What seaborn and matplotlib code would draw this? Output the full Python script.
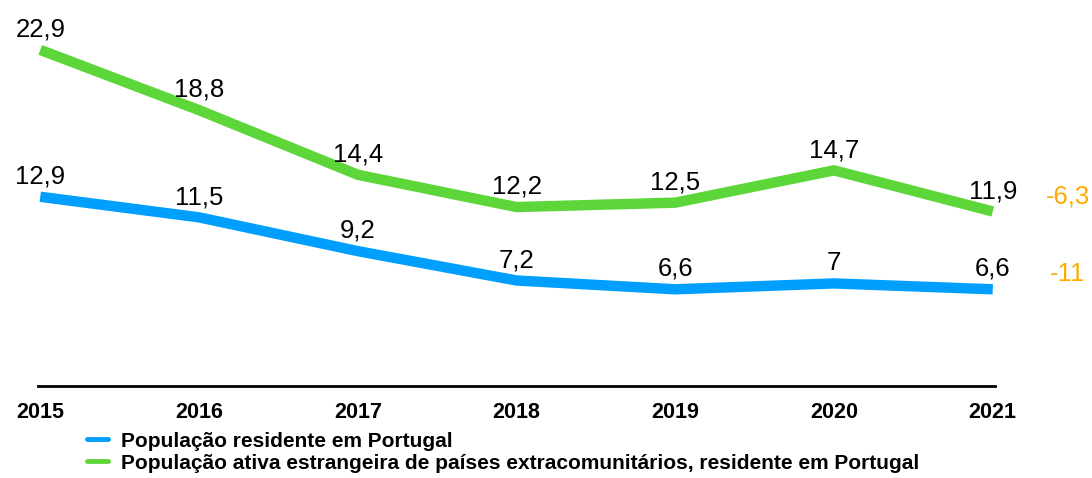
import pandas as pd
import matplotlib
matplotlib.use("Agg")
import matplotlib.pyplot as plt
import seaborn as sns

# ----------------------------- Data ----------------------------- #
years = [2015, 2016, 2017, 2018, 2019, 2020, 2021]
residentes = [12.9, 11.5, 9.2, 7.2, 6.6, 7.0, 6.6]
estrangeiros = [22.9, 18.8, 14.4, 12.2, 12.5, 14.7, 11.9]
serie_residentes = "População residente em Portugal"
serie_estrangeiros = "População ativa estrangeira de países extracomunitários, residente em Portugal"
variacao = {serie_estrangeiros: "-6,3", serie_residentes: "-11"}

df = pd.concat([
    pd.DataFrame({"Ano": years, "Valor": residentes, "Serie": serie_residentes}),
    pd.DataFrame({"Ano": years, "Valor": estrangeiros, "Serie": serie_estrangeiros}),
], ignore_index=True)

palette = {serie_residentes: "#009FFD", serie_estrangeiros: "#5DD63A"}


def fmt(v):
    s = f"{v:.1f}".replace(".", ",")
    return s[:-2] if s.endswith(",0") else s


# ----------------------------- Plot ----------------------------- #
sns.set_theme(style="white")
plt.rcParams["font.family"] = ["Liberation Sans", "DejaVu Sans"]
plt.rcParams["text.color"] = "black"

fig = plt.figure(figsize=(10.92, 4.78), dpi=100)
ax = fig.add_axes([0.035, 0.192, 0.876, 0.808])

sns.lineplot(data=df, x="Ano", y="Valor", hue="Serie", palette=palette,
             linewidth=7.5, ax=ax, legend=False, solid_capstyle="butt")

for serie, grp in df.groupby("Serie"):
    for x, y in zip(grp["Ano"], grp["Valor"]):
        ax.annotate(fmt(y), (x, y), xytext=(0, 6), textcoords="offset points",
                    ha="center", va="bottom", fontsize=18.5, color="black")
    last = grp[grp["Ano"] == years[-1]]["Valor"].iloc[0]
    ax.annotate(variacao[serie], (years[-1], last), xytext=(54, 11),
                textcoords="offset points", ha="center", va="center",
                fontsize=18.5, color="#FFAA00", annotation_clip=False)

ax.set_xlim(2015 - 0.013, 2021 + 0.013)
ax.set_ylim(0, 26.3)
ax.set_xticks(years)
ax.set_xticklabels([str(y) for y in years], fontsize=15.5, fontweight="bold")
ax.set_yticks([])
ax.set_xlabel("")
ax.set_ylabel("")
ax.tick_params(axis="x", length=0, pad=11, colors="black", labelcolor="black")
for side in ["top", "left", "right"]:
    ax.spines[side].set_visible(False)
ax.spines["bottom"].set_color("black")
ax.spines["bottom"].set_linewidth(2)

handles = [plt.Line2D([], [], color=palette[s], linewidth=3.5)
           for s in [serie_residentes, serie_estrangeiros]]
fig.legend(handles, [serie_residentes, serie_estrangeiros],
           loc="upper left", bbox_to_anchor=(0.08, 0.097), frameon=False,
           handlelength=1.0, handletextpad=0.6, labelspacing=0.15,
           prop={"size": 15, "weight": "bold"}, borderpad=0, borderaxespad=0,
           labelcolor="black")

fig.savefig("out.png", dpi=100)
